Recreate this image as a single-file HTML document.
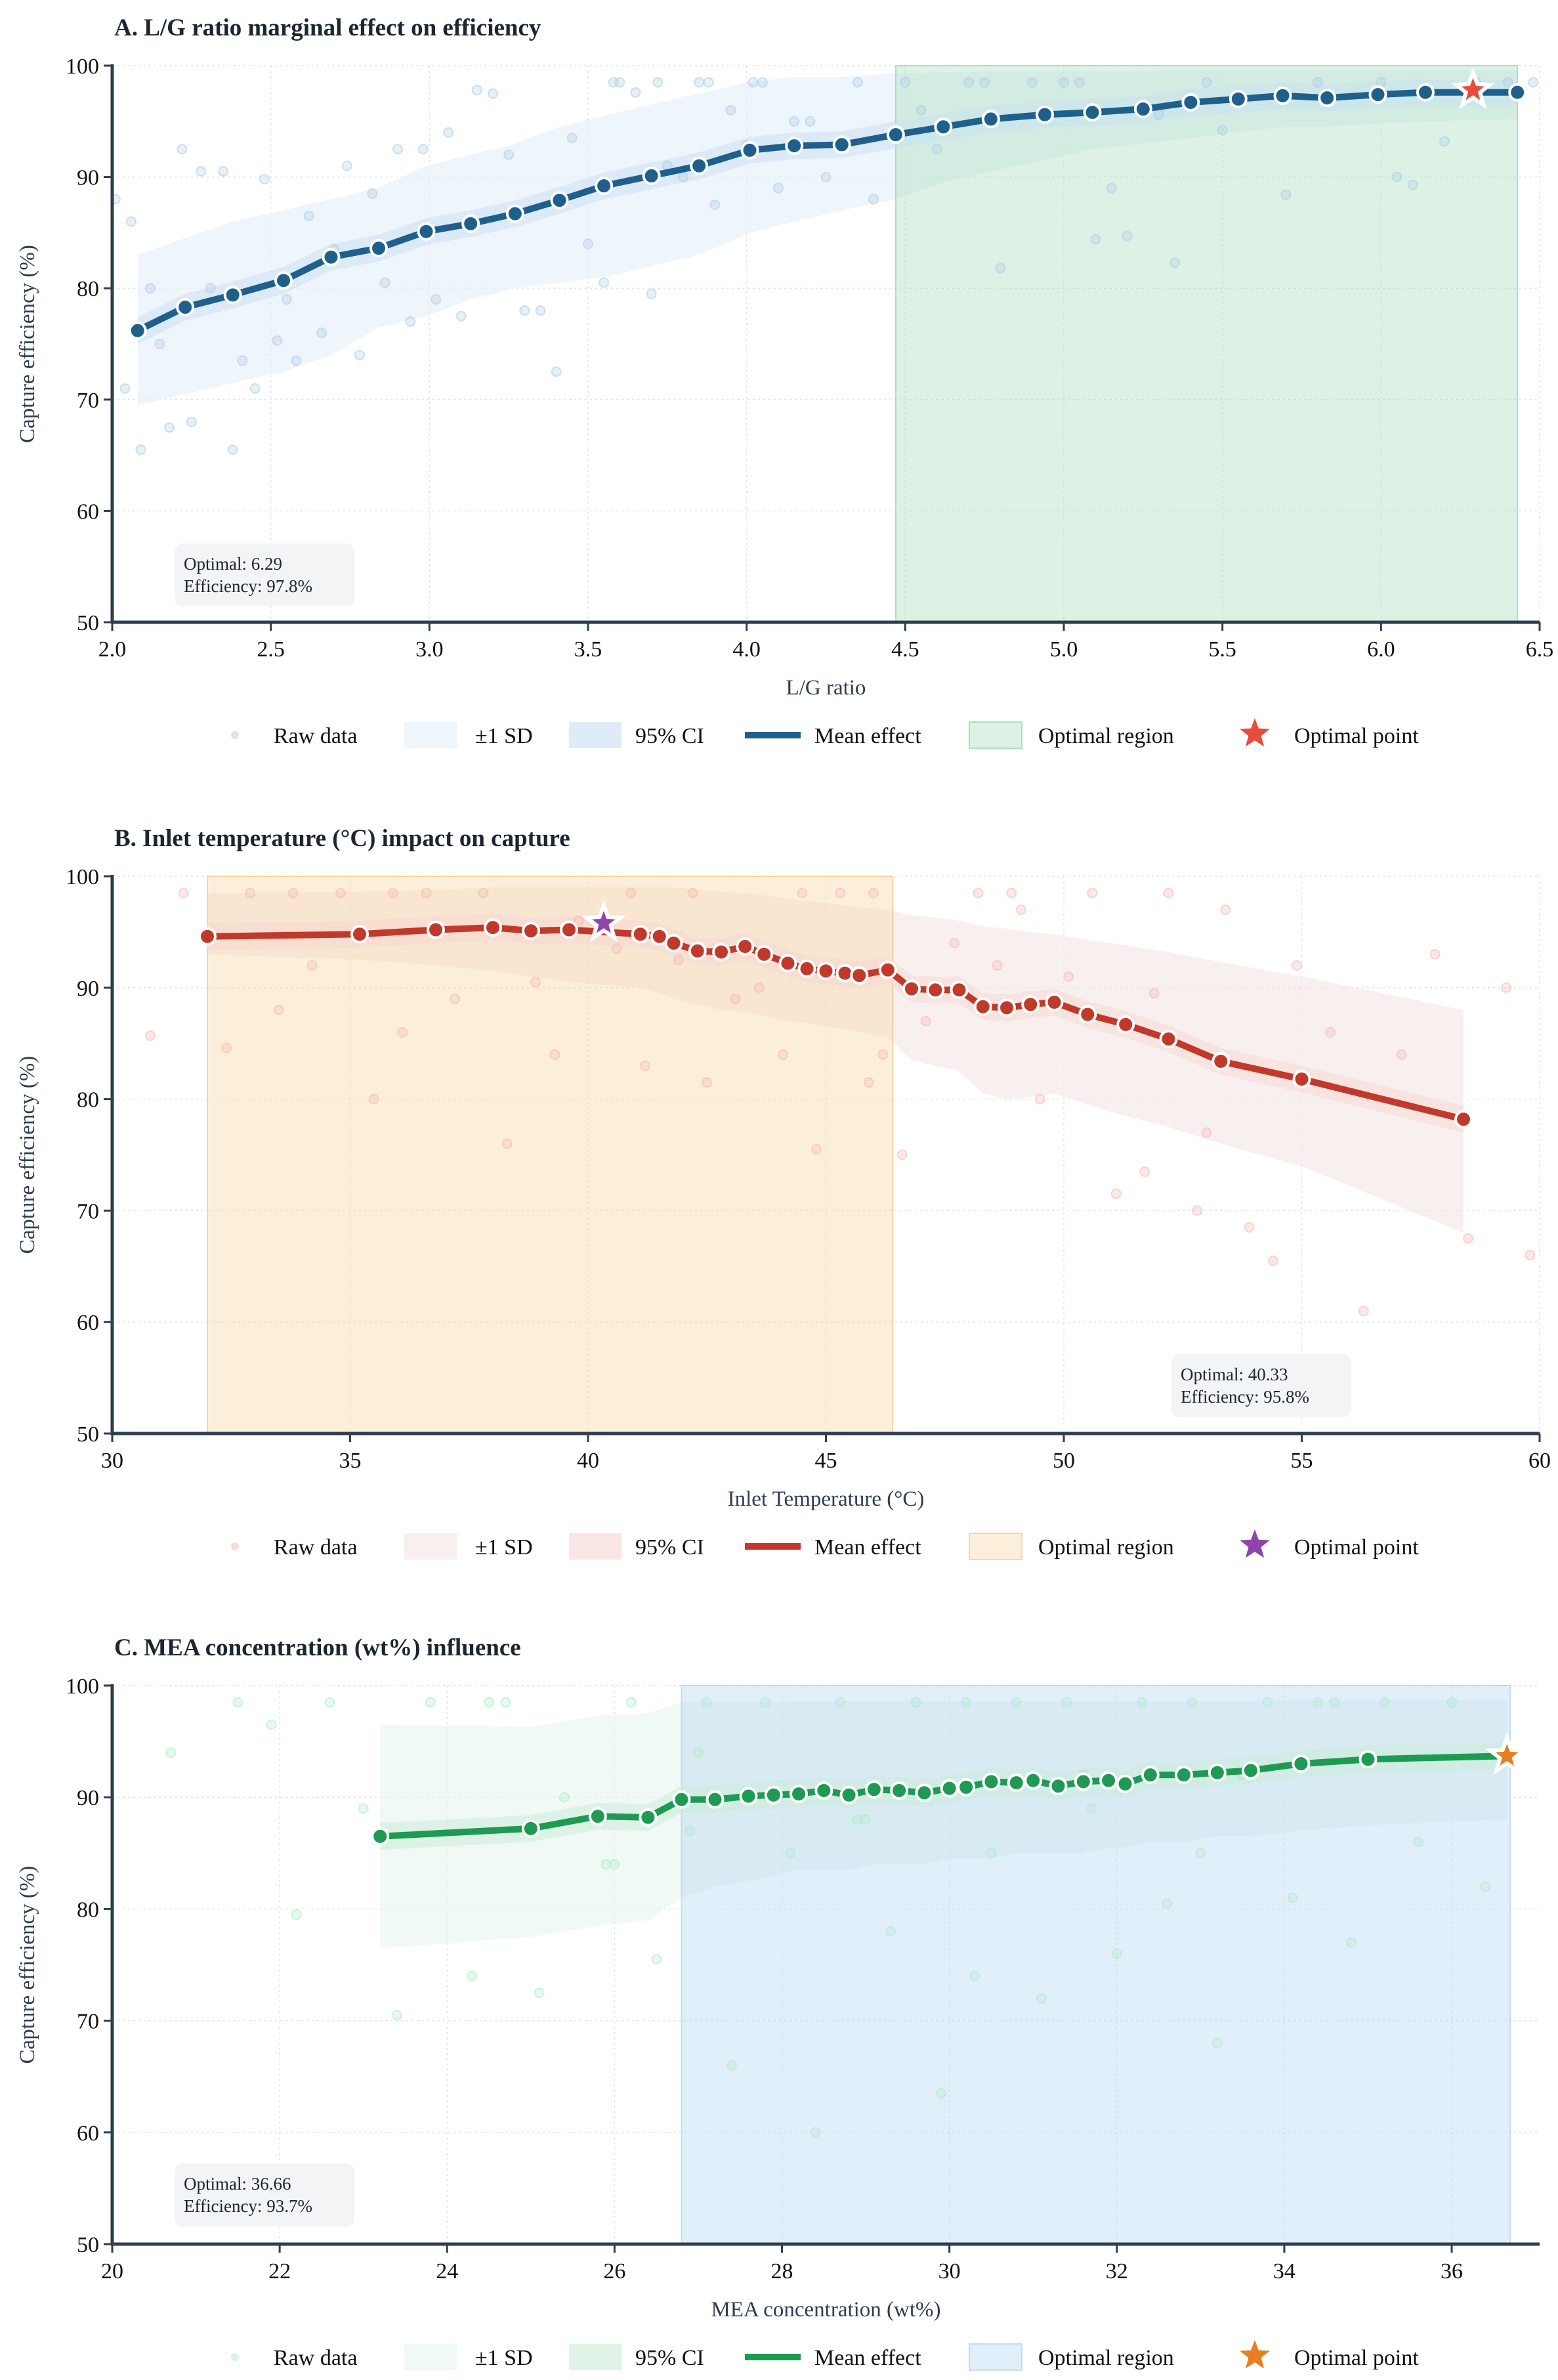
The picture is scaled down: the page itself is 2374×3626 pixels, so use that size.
<!DOCTYPE html>
<html><head><meta charset="utf-8">
<style>
html,body{margin:0;padding:0;background:#fff;}
svg{display:block;font-family:"Liberation Serif","DejaVu Serif",serif;}
</style></head>
<body>
<svg id="fig" width="2374" height="3626" viewBox="0 0 2374 3626" xmlns="http://www.w3.org/2000/svg"></svg>
<script>
// ---------- Panel A data ----------
const aMeanX=[2.08,2.23,2.38,2.54,2.69,2.84,2.99,3.13,3.27,3.41,3.55,3.70,3.85,4.01,4.15,4.30,4.47,4.62,4.77,4.94,5.09,5.25,5.40,5.55,5.69,5.83,5.99,6.14,6.43];
const aMeanY=[76.2,78.3,79.4,80.7,82.8,83.6,85.1,85.8,86.7,87.9,89.2,90.1,91.0,92.4,92.8,92.9,93.8,94.5,95.2,95.6,95.8,96.1,96.7,97.0,97.3,97.1,97.4,97.6,97.6];
const aSdLo=[69.5,70.5,71.5,72.5,74,76.5,77.5,79,80,80.5,81,82,83,85,86,87,88,89.5,90.5,91.5,92.5,93,93.5,94,94.5,94.5,94.8,95,95.2];
const aSdHi=[83,84.5,86,87,88,89,91,92,93,94.5,95.5,96.5,97.5,98.5,99,99,99.3,99.4,99.5,99.5,99.5,99.5,99.6,99.6,99.6,99.6,99.6,99.6,99.6];
const aRawX=[2.01,2.04,2.06,2.09,2.12,2.15,2.18,2.22,2.25,2.28,2.31,2.35,2.38,2.41,2.45,2.48,2.52,2.55,2.58,2.62,2.66,2.7,2.74,2.78,2.82,2.86,2.9,2.94,2.98,3.02,3.06,3.1,3.15,3.2,3.25,3.3,3.35,3.4,3.45,3.5,3.55,3.6,3.65,3.7,3.75,3.8,3.85,3.9,3.95,4.0,4.05,4.1,4.15,4.2,4.25,4.3,4.35,4.4,4.5,4.6,4.7,4.8,4.9,5.0,5.1,5.15,5.2,5.3,5.35,5.5,5.7,6.05,6.1,6.2,6.3,4.55,4.75,5.05,5.45,5.8,6.0,6.4,6.48,3.58,3.72,3.88,4.02];
const aRawY=[88,71,86,65.5,80,75,67.5,92.5,68,90.5,80,90.5,65.5,73.5,71,89.8,75.3,79,73.5,86.5,76,83.5,91,74,88.5,80.5,92.5,77,92.5,79,94,77.5,97.8,97.5,92,78,78,72.5,93.5,84,80.5,98.5,97.6,79.5,91,90,98.5,87.5,96,92.8,98.5,89,95,95,90,93,98.5,88,98.5,92.5,98.5,81.8,98.5,98.5,84.4,89,84.7,95.6,82.3,94.2,88.4,90,89.3,93.2,98.5,96,98.5,98.5,98.5,98.5,98.5,98.5,98.5,98.5,98.5,98.5,98.5];

// ---------- Panel B data ----------
const bMeanX=[32.0,35.2,36.8,38.0,38.8,39.6,41.1,41.5,41.8,42.3,42.8,43.3,43.7,44.2,44.6,45.0,45.4,45.7,46.3,46.8,47.3,47.8,48.3,48.8,49.3,49.8,50.5,51.3,52.2,53.3,55.0,58.4];
const bMeanY=[94.6,94.8,95.2,95.4,95.1,95.2,94.8,94.6,94.0,93.3,93.2,93.7,93.0,92.2,91.7,91.5,91.3,91.1,91.6,89.9,89.8,89.8,88.3,88.2,88.5,88.7,87.6,86.7,85.4,83.4,81.8,78.2];
const bSdLo=[93,92.5,92,91.5,91,90.5,90,89.5,89,88.5,88,87.8,87.5,87,86.8,86.5,86.3,86,85.5,83.5,83,82.5,80.5,80,80.2,80.5,79.5,78.5,77.5,76,74,68];
const bSdHi=[98.5,98.6,98.8,99,99,99,99,99,99,98.8,98.6,98.5,98.3,98,97.8,97.6,97.4,97.2,97,96.5,96.3,96,95.5,95.3,95,94.8,94.3,93.8,93.2,92.3,91,88];
const bRawX=[30.8,31.5,32.4,32.9,33.5,34.2,34.8,35.5,36.1,36.6,37.2,37.8,38.3,38.9,39.3,39.8,40.6,41.2,41.9,42.5,43.1,43.6,44.1,44.8,45.3,45.9,46.2,46.6,47.1,47.7,48.2,48.6,49.1,49.5,50.1,50.6,51.1,51.7,52.2,52.8,53.4,53.9,54.4,54.9,55.6,56.3,57.1,57.8,58.5,59.3,59.8,44.5,42.2,40.9,46.0,48.9,51.9,53.0,35.9,33.8];
const bRawY=[85.7,98.5,84.6,98.5,88,92,98.5,80,86,98.5,89,98.5,76,90.5,84,96,93.5,83,92.5,81.5,89,90,84,75.5,98.5,81.5,84,75,87,94,98.5,92,97,80,91,98.5,71.5,73.5,98.5,70,97,68.5,65.5,92,86,61,84,93,67.5,90,66,98.5,98.5,98.5,98.5,98.5,89.5,77,98.5,98.5];

// ---------- Panel C data ----------
const cMeanX=[23.2,25.0,25.8,26.4,26.8,27.2,27.6,27.9,28.2,28.5,28.8,29.1,29.4,29.7,30.0,30.2,30.5,30.8,31.0,31.3,31.6,31.9,32.1,32.4,32.8,33.2,33.6,34.2,35.0,36.66];
const cMeanY=[86.5,87.2,88.3,88.2,89.8,89.8,90.1,90.2,90.3,90.6,90.2,90.7,90.6,90.4,90.8,90.9,91.4,91.3,91.5,91.0,91.4,91.5,91.2,92.0,92.0,92.2,92.4,93.0,93.4,93.7];
const cSdLo=[76.5,77.5,78.5,79,81,82,82.5,83,83.5,83.5,83.5,84,84,84,84.5,84.5,84.5,85,85,85,85,85.5,85.5,86,86,86.5,86.5,87,87.5,88];
const cSdHi=[96.5,96.3,97.3,97.5,98.5,98.5,98.5,98.5,98.6,98.6,98.6,98.6,98.6,98.6,98.6,98.6,98.6,98.6,98.6,98.6,98.6,98.6,98.6,98.6,98.6,98.6,98.6,98.7,98.7,98.7];
const cRawX=[20.7,21.5,21.9,22.2,22.6,23.0,23.4,23.8,24.3,24.7,25.1,25.4,25.9,26.2,26.5,26.9,27.1,27.4,27.8,28.1,28.4,28.7,29.0,29.3,29.6,29.9,30.2,30.5,30.8,31.1,31.4,31.7,32.0,32.3,32.6,32.9,33.2,33.5,33.8,34.1,34.4,34.8,35.2,35.6,36.0,36.4,27.0,28.9,30.3,31.6,33.0,34.6,26.0,24.5];
const cRawY=[94,98.5,96.5,79.5,98.5,89,70.5,98.5,74,98.5,72.5,90,84,98.5,75.5,87,98.5,66,98.5,85,60,98.5,88,78,98.5,63.5,98.5,85,98.5,72,98.5,89,76,98.5,80.5,98.5,68,92,98.5,81,98.5,77,98.5,86,98.5,82,94,88,74,92,85,98.5,84,98.5];

const svg=document.getElementById('fig');
const NS='http://www.w3.org/2000/svg';
function mk(tag,attrs,parent){const e=document.createElementNS(NS,tag);for(const k in attrs)e.setAttribute(k,attrs[k]);(parent||svg).appendChild(e);return e;}
function txt(s,attrs,parent){const e=mk('text',attrs,parent);e.textContent=s;return e;}
function starPts(cx,cy,R){const r=R*0.42;let p=[];for(let i=0;i<10;i++){const a=-Math.PI/2+i*Math.PI/5;const rr=i%2?r:R;p.push((cx+rr*Math.cos(a)).toFixed(1)+','+(cy+rr*Math.sin(a)).toFixed(1));}return p.join(' ');}

const L=171,R=2346;
const panels=[
 {id:'a',top:100,bot:948,xmin:2,xmax:6.5,xt:[2.0,2.5,3.0,3.5,4.0,4.5,5.0,5.5,6.0,6.5],dec:1,
  title:'A. L/G ratio marginal effect on efficiency',xlabel:'L/G ratio',
  mx:aMeanX,my:aMeanY,lo:aSdLo,hi:aSdHi,rx:aRawX,ry:aRawY,
  col:'#1f5f8b',raw:'#a9cce3',sd:'#e3eef8',ci:'#c8e0f2',reg:[4.47,6.43],regCol:'#a9dfbf',regEdge:'#7dcea0',
  star:[6.29,97.8],starCol:'#e74c3c',opt:'6.29',eff:'97.8%',box:[266,828]},
 {id:'b',top:1335,bot:2184,xmin:30,xmax:60,xt:[30,35,40,45,50,55,60],dec:0,
  title:'B. Inlet temperature (°C) impact on capture',xlabel:'Inlet Temperature (°C)',
  mx:bMeanX,my:bMeanY,lo:bSdLo,hi:bSdHi,rx:bRawX,ry:bRawY,
  col:'#c0392b',raw:'#f5b7b1',sd:'#f3e6e4',ci:'#f6d5d2',reg:[32,46.4],regCol:'#f8d7a3',regEdge:'#f5c27a',
  star:[40.33,95.8],starCol:'#8e44ad',opt:'40.33',eff:'95.8%',box:[1785,2063]},
 {id:'c',top:2568,bot:3419,xmin:20,xmax:37.05,xt:[20,22,24,26,28,30,32,34,36],dec:0,
  title:'C. MEA concentration (wt%) influence',xlabel:'MEA concentration (wt%)',
  mx:cMeanX,my:cMeanY,lo:cSdLo,hi:cSdHi,rx:cRawX,ry:cRawY,
  col:'#1e9a52',raw:'#abebc6',sd:'#e6f5ec',ci:'#c9ecd7',reg:[26.8,36.7],regCol:'#b4d6f2',regEdge:'#a9cbe9',
  star:[36.66,93.7],starCol:'#e67e22',opt:'36.66',eff:'93.7%',box:[266,3296]}
];

panels.forEach(p=>{
  const g=mk('g',{});
  
  
  const X=v=>L+(v-p.xmin)/(p.xmax-p.xmin)*(R-L);
  const Y=v=>p.bot-(v-50)/50*(p.bot-p.top);
  const t=txt(p.title,{x:174,y:p.top-46,'font-size':37,'font-weight':'bold',fill:'#1b2631'},g);
  
  
  p.xt.forEach(v=>{mk('line',{x1:X(v),x2:X(v),y1:p.top,y2:p.bot,stroke:'#e2e2e2','stroke-width':1.5,'stroke-dasharray':'3,5'},g);});
  [60,70,80,90,100].forEach(v=>{mk('line',{x1:L,x2:R,y1:Y(v),y2:Y(v),stroke:'#e2e2e2','stroke-width':1.5,'stroke-dasharray':'3,5'},g);});
  // SD band (drawn under region)
  let d='M'+p.mx.map((x,i)=>X(x)+','+Y(p.hi[i])).join(' L')+' L'+p.mx.map((x,i)=>X(x)+','+Y(p.lo[i])).reverse().join(' L')+'Z';
  const sd=mk('path',{d:d,fill:p.sd,'fill-opacity':0.6},g);
  
  
  const reg=mk('rect',{x:X(p.reg[0]),y:p.top,width:X(p.reg[1])-X(p.reg[0]),height:p.bot-p.top,fill:p.regCol,'fill-opacity':0.4,stroke:p.regEdge,'stroke-opacity':0.6,'stroke-width':2},g);
  
  
  d='M'+p.mx.map((x,i)=>X(x)+','+Y(p.my[i]+1.2)).join(' L')+' L'+p.mx.map((x,i)=>X(x)+','+Y(p.my[i]-1.2)).reverse().join(' L')+'Z';
  const ci=mk('path',{d:d,fill:p.ci,'fill-opacity':0.5},g);
  
  
  p.rx.forEach((x,i)=>{
    const c=mk('circle',{cx:X(x),cy:Y(p.ry[i]),r:7,fill:p.raw,'fill-opacity':0.3,stroke:p.raw,'stroke-opacity':0.55,'stroke-width':2},g);
    
    
  });
  const ln=mk('polyline',{points:p.mx.map((x,i)=>X(x)+','+Y(p.my[i])).join(' '),fill:'none',stroke:p.col,'stroke-width':10,'stroke-linejoin':'round','stroke-linecap':'round'},g);
  
  
  p.mx.forEach((x,i)=>{
    const c=mk('circle',{cx:X(x),cy:Y(p.my[i]),r:12,fill:p.col,stroke:'#fff','stroke-width':4},g);
    
    
  });
  const st=mk('polygon',{points:starPts(X(p.star[0]),Y(p.star[1]),27),fill:p.starCol,stroke:'#fff','stroke-width':6,'stroke-linejoin':'miter'},g);
  
  
  mk('line',{x1:L,x2:L,y1:p.top-2,y2:p.bot+2,stroke:'#2c3e50','stroke-width':5},g);
  mk('line',{x1:L-2,x2:R,y1:p.bot,y2:p.bot,stroke:'#2c3e50','stroke-width':5},g);
  p.xt.forEach(v=>{
    mk('line',{x1:X(v),x2:X(v),y1:p.bot,y2:p.bot+13,stroke:'#2c3e50','stroke-width':3},g);
    const tl=txt(v.toFixed(p.dec),{x:X(v),y:p.bot+52,'font-size':34,'text-anchor':'middle',fill:'#111'},g);
    
    
  });
  [50,60,70,80,90,100].forEach(v=>{
    mk('line',{x1:L-13,x2:L,y1:Y(v),y2:Y(v),stroke:'#2c3e50','stroke-width':3},g);
    const tl=txt(String(v),{x:L-20,y:Y(v)+12,'font-size':34,'text-anchor':'end',fill:'#111'},g);
    
    
  });
  const xl=txt(p.xlabel,{x:(L+R)/2,y:p.bot+110,'font-size':33,'text-anchor':'middle',fill:'#2c3e50'},g);
  
  
  const cy=(p.top+p.bot)/2;
  const yl=txt('Capture efficiency (%)',{x:52,y:cy,'font-size':33,'text-anchor':'middle',fill:'#2c3e50',transform:'rotate(-90 52 '+cy+')'},g);
  
  
  const bx=mk('g',{},g);
  
  
  mk('rect',{x:p.box[0],y:p.box[1],width:274,height:96,rx:12,fill:'#f2f3f4','fill-opacity':0.9},bx);
  txt('Optimal: '+p.opt,{x:p.box[0]+14,y:p.box[1]+40,'font-size':27,fill:'#1b2631'},bx);
  txt('Efficiency: '+p.eff,{x:p.box[0]+14,y:p.box[1]+74,'font-size':27,fill:'#1b2631'},bx);
  const ly=p.bot+172;
  const lg=mk('g',{},g);
  
  
  mk('circle',{cx:358,cy:ly,r:6,fill:p.raw,'fill-opacity':0.5},lg);
  txt('Raw data',{x:417,y:ly+12,'font-size':34,fill:'#111'},lg);
  mk('rect',{x:616,y:ly-20,width:80,height:40,fill:p.sd,'fill-opacity':0.6},lg);
  txt('±1 SD',{x:724,y:ly+12,'font-size':34,fill:'#111'},lg);
  mk('rect',{x:867,y:ly-20,width:80,height:40,fill:p.ci,'fill-opacity':0.6},lg);
  txt('95% CI',{x:968,y:ly+12,'font-size':34,fill:'#111'},lg);
  mk('line',{x1:1135,x2:1220,y1:ly,y2:ly,stroke:p.col,'stroke-width':10},lg);
  txt('Mean effect',{x:1241,y:ly+12,'font-size':34,fill:'#111'},lg);
  mk('rect',{x:1477,y:ly-20,width:80,height:40,fill:p.regCol,'fill-opacity':0.4,stroke:p.regEdge,'stroke-opacity':0.6,'stroke-width':2},lg);
  txt('Optimal region',{x:1582,y:ly+12,'font-size':34,fill:'#111'},lg);
  mk('polygon',{points:starPts(1912,ly-2,24),fill:p.starCol},lg);
  txt('Optimal point',{x:1972,y:ly+12,'font-size':34,fill:'#111'},lg);
});
</script>
</body></html>
